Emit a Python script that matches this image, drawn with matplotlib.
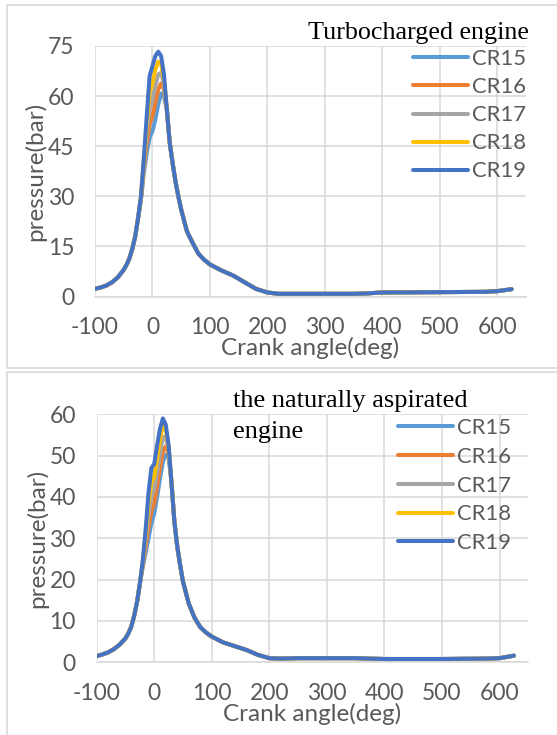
import matplotlib
matplotlib.use("Agg")
import matplotlib.pyplot as plt
from matplotlib.patches import Rectangle

plt.rcParams['font.family'] = ['Lato', 'DejaVu Sans']
plt.rcParams['axes.unicode_minus'] = False

W, H = 557, 735

labels = ['CR15', 'CR16', 'CR17', 'CR18', 'CR19']
colors = ['#5B9BD5', '#ED7D31', '#A5A5A5', '#FFC000', '#4472C4']

# crank angle (deg), split in rise / peak / tail segments
angle_rise = [-100, -90, -80, -70, -60, -50, -45, -40, -35, -30, -25]
angle_peak = [-20, -15, -10, -5, 0, 5, 10, 15, 20, 25, 30]
angle_tail = [35, 40, 45, 50, 60, 70, 80, 90, 100, 120, 140, 160, 180, 200, 220, 250,
              300, 350, 370, 400, 500, 580, 600, 625]

# turbocharged engine, pressure (bar)
tc_rise = [2.3, 2.7, 3.3, 4.3, 5.8, 8.0, 9.5, 11.5, 14.3, 18.0, 23.5]
tc_peak = {
    'CR15': [29.0, 37.0, 43.0, 47.5, 49.5, 53.0, 57.5, 60.8, 59.8, 56.0, 46.2],
    'CR16': [29.3, 38.5, 46.0, 51.5, 54.0, 58.0, 62.0, 63.8, 62.0, 56.0, 46.2],
    'CR17': [29.5, 40.0, 49.0, 56.0, 59.0, 63.0, 66.5, 67.0, 63.5, 56.0, 46.1],
    'CR18': [29.8, 41.0, 51.5, 61.0, 64.0, 68.0, 70.3, 69.8, 65.0, 56.0, 46.0],
    'CR19': [30.0, 41.5, 54.0, 66.0, 69.0, 72.0, 73.3, 72.0, 66.5, 56.0, 46.0],
}
tc_tail = [40.0, 34.5, 30.0, 26.0, 19.5, 16.0, 12.8, 11.0, 9.6, 7.8, 6.3, 4.3, 2.3, 1.2,
           0.8, 0.8, 0.8, 0.8, 0.9, 1.2, 1.3, 1.4, 1.6, 2.2]

# naturally aspirated engine, pressure (bar)
na_rise = [1.5, 1.9, 2.4, 3.2, 4.3, 5.8, 7.0, 8.6, 11.2, 14.5, 19.0]
na_peak = {
    'CR15': [23.0, 26.5, 30.0, 33.6, 36.0, 40.0, 44.5, 48.5, 50.2, 49.5, 43.5],
    'CR16': [23.5, 28.0, 32.5, 36.5, 38.5, 42.5, 47.0, 51.0, 52.2, 50.5, 43.5],
    'CR17': [24.0, 29.5, 35.5, 40.0, 42.0, 46.0, 50.5, 54.5, 54.5, 51.5, 43.5],
    'CR18': [24.3, 31.0, 38.5, 43.5, 45.0, 49.5, 54.0, 57.4, 56.5, 52.0, 43.5],
    'CR19': [24.5, 32.0, 41.0, 47.0, 48.0, 52.5, 56.5, 59.0, 57.5, 52.5, 43.3],
}
na_tail = [34.0, 28.0, 23.5, 19.5, 14.2, 10.8, 8.5, 7.2, 6.2, 4.8, 3.9, 3.0, 1.8, 1.0,
           0.9, 1.0, 1.0, 1.0, 0.9, 0.8, 0.8, 0.9, 1.0, 1.6]

angle = angle_rise + angle_peak + angle_tail

fig = plt.figure(figsize=(W / 100, H / 100), dpi=100)


def px_axes(left, top, right, bottom):
    return fig.add_axes([left / W, 1 - bottom / H, (right - left) / W, (bottom - top) / H])


def panel(ax, rise, peak, tail, ymax, ystep, leg_x, leg_top, leg_space):
    for lab, col in zip(labels, colors):
        ax.plot(angle, rise + peak[lab] + tail, color=col, lw=2.9, label=lab,
                solid_capstyle='round', solid_joinstyle='round', zorder=3)
    ax.set_xlim(-100, 650)
    ax.set_ylim(0, ymax)
    ax.set_xticks(range(-100, 700, 100))
    ax.set_yticks(range(0, ymax + 1, ystep))
    ax.grid(True, color='#d9d9d9', lw=1.1, zorder=0)
    for s in ['top', 'right', 'left']:
        ax.spines[s].set_visible(False)
    ax.spines['bottom'].set_color('#d9d9d9')
    ax.spines['bottom'].set_linewidth(1.1)
    ax.tick_params(length=0, labelsize=16.5, colors='#595959', pad=15)
    ax.set_xlabel('Crank angle(deg)', fontsize=17.5, color='#595959', labelpad=-1)
    ax.set_ylabel('pressure(bar)', fontsize=17.5, color='#595959', labelpad=1)
    ax.legend(loc='upper left', bbox_to_anchor=(leg_x / W, 1 - leg_top / H),
              bbox_transform=fig.transFigure, frameon=False, fontsize=15.8,
              handlelength=2.5, handletextpad=0.2, labelspacing=leg_space,
              borderpad=0, borderaxespad=0, labelcolor='#595959')


# panel borders
fig.patches.append(Rectangle((7 / W, 1 - 368 / H), 560 / W, 363 / H, transform=fig.transFigure,
                             fill=False, edgecolor='#d9d9d9', lw=1.2))
fig.patches.append(Rectangle((7 / W, 1 - 745 / H), 560 / W, 373 / H, transform=fig.transFigure,
                             fill=False, edgecolor='#d9d9d9', lw=1.2))

ax1 = px_axes(95, 46, 526, 296.5)
panel(ax1, tc_rise, tc_peak, tc_tail, 75, 15, 413, 49, 0.37)
fig.text(308 / W, 1 - 38.5 / H, 'Turbocharged engine', fontsize=18.8,
         family='Liberation Serif', va='baseline', ha='left')

ax2 = px_axes(96.7, 414.3, 528.3, 662.3)
panel(ax2, na_rise, na_peak, na_tail, 60, 10, 398, 418, 0.40)
fig.text(233 / W, 1 - 406.7 / H, 'the naturally aspirated', fontsize=19,
         family='Liberation Serif', va='baseline', ha='left')
fig.text(233 / W, 1 - 438.3 / H, 'engine', fontsize=19,
         family='Liberation Serif', va='baseline', ha='left')

fig.savefig('out.png', dpi=100)
